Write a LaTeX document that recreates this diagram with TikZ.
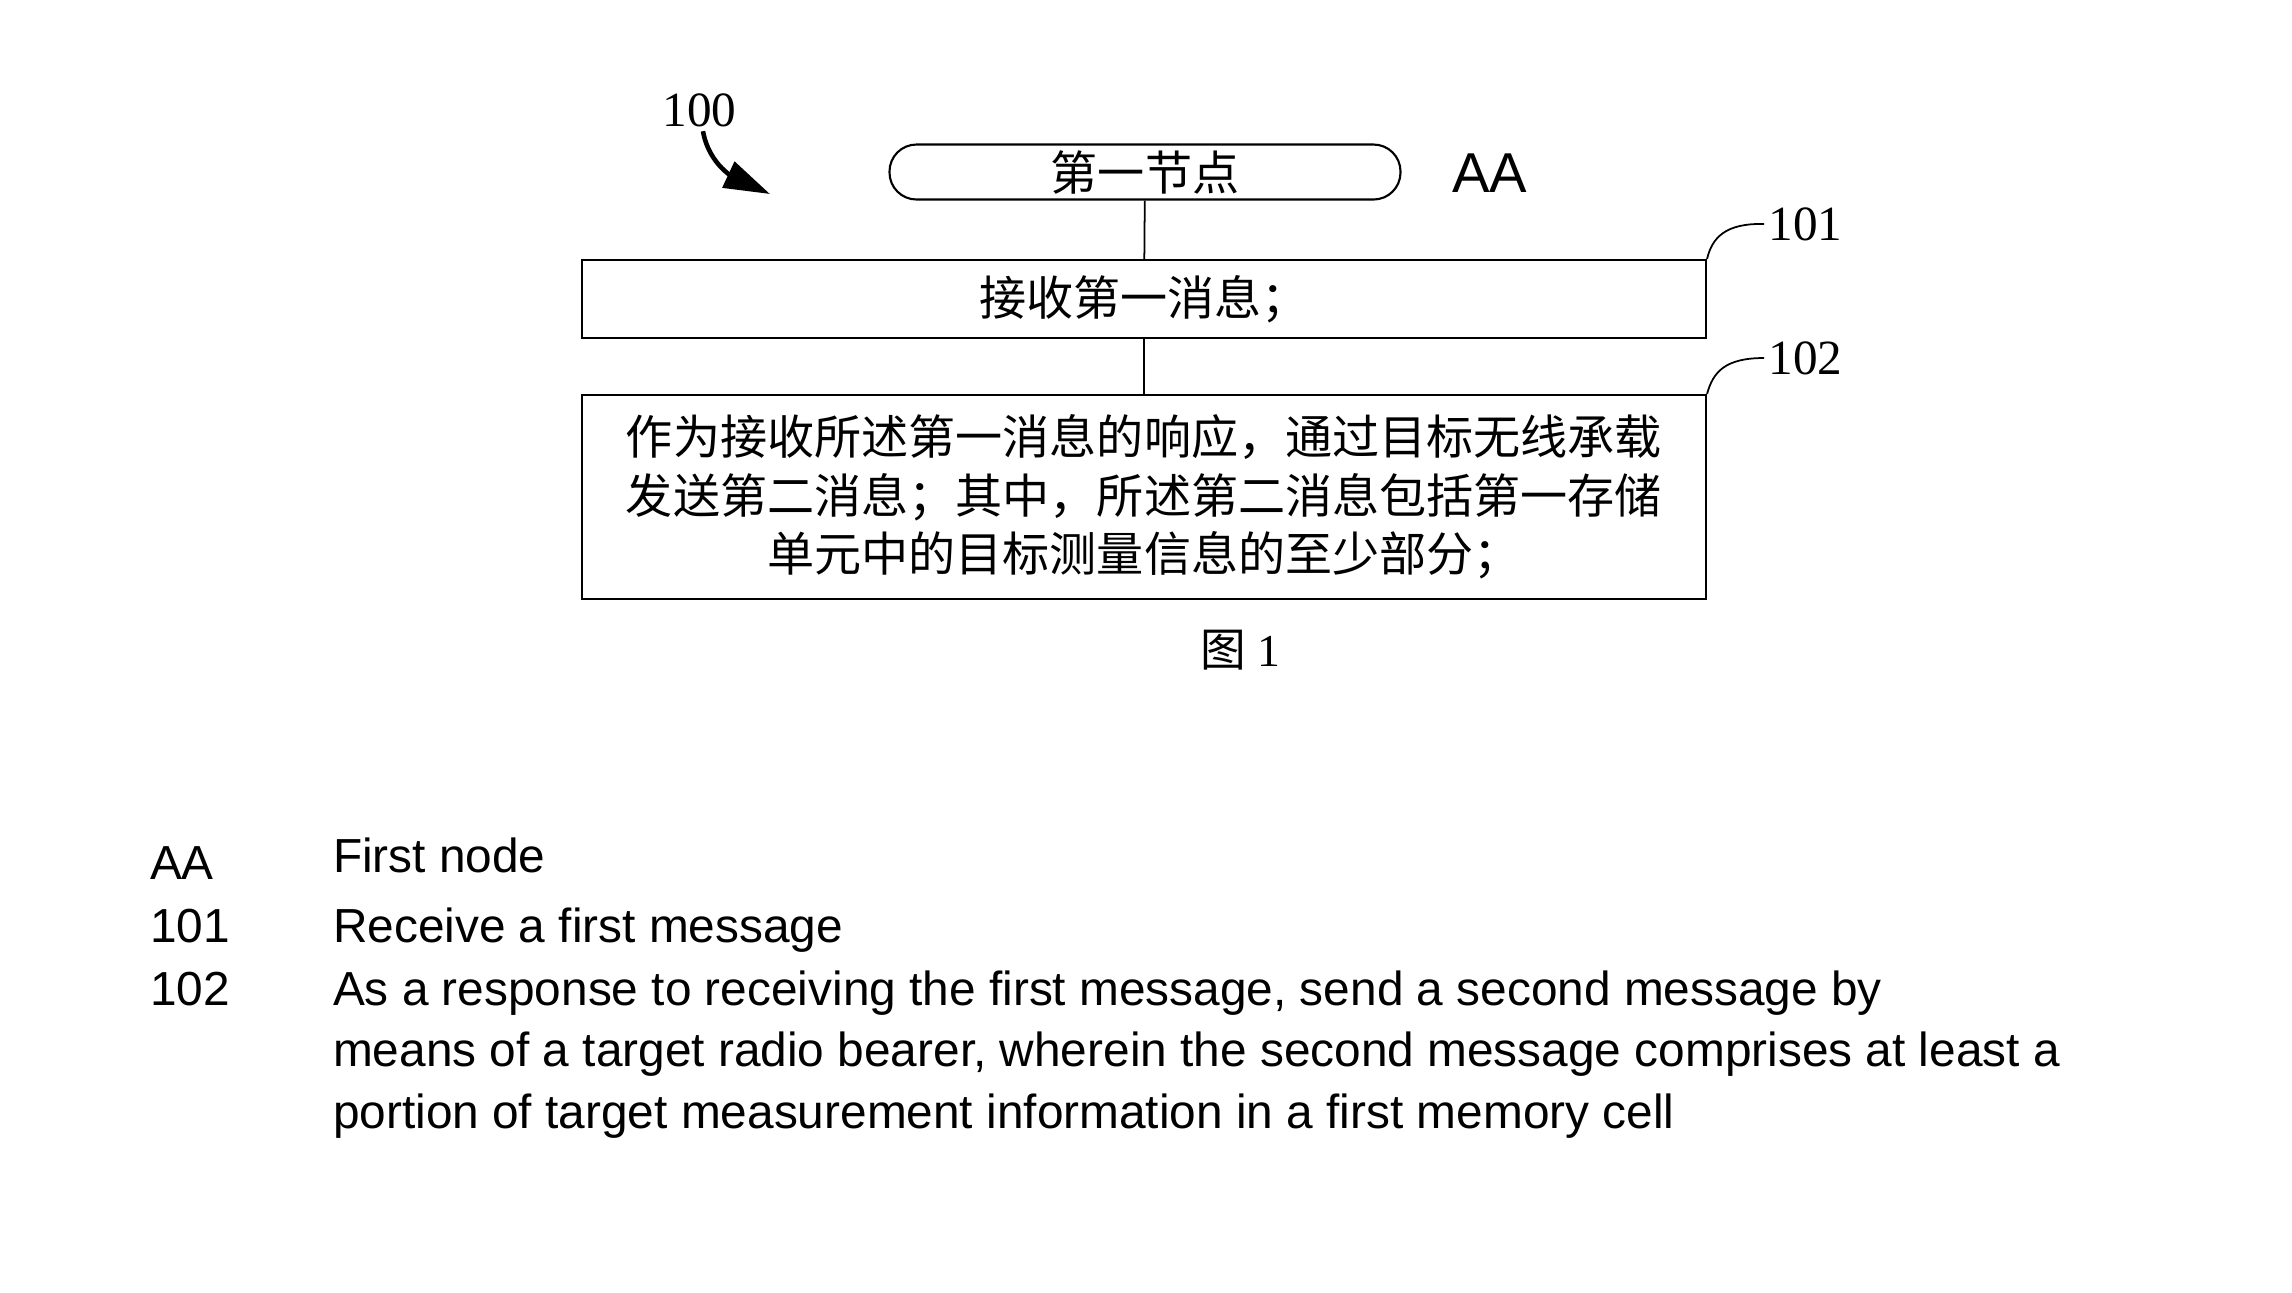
\documentclass[tikz,border=0pt]{standalone}
\usepackage{fontspec}
\setmainfont{Liberation Serif}
\setsansfont{Liberation Sans}
\newfontfamily\cjk{Noto Sans CJK SC}
\usetikzlibrary{arrows.meta,positioning}

\begin{document}
\begin{tikzpicture}[
    >=Latex,
    line width=0.6pt,
    stepbox/.style={
        draw,
        align=center,
        minimum width=11.24cm,
        inner sep=0pt,
        font=\cjk\fontsize{13.4}{16.6}\selectfont
    },
    terminal/.style={
        draw,
        rounded corners=2.7mm,
        minimum width=5.11cm,
        minimum height=0.55cm,
        inner sep=0pt,
        font=\cjk\fontsize{13.4}{16.6}\selectfont
    },
    refnum/.style={
        anchor=west,
        inner sep=1pt,
        font=\fontsize{14}{16}\selectfont
    },
    legend/.style={
        anchor=base west,
        inner sep=0pt,
        font=\sffamily\fontsize{13.6}{17.4}\selectfont
    },
    edge/.style={line width=0.5pt}
]
    \useasboundingbox (0,0) rectangle (22.92,-12.92);

    % flow chart
    \node[terminal] (first) at (11.45,-1.72) {第一节点};
    \node[anchor=base west, inner sep=0pt, font=\sffamily\fontsize{16}{18}\selectfont]
        (aa) at (14.51,-1.92) {AA};
    \node[stepbox, minimum height=0.78cm] (recv) at (11.44,-2.99) {接收第一消息；};
    \node[stepbox, minimum height=2.04cm] (send) at (11.44,-4.97)
        {作为接收所述第一消息的响应，通过目标无线承载\\
         发送第二消息；其中，所述第二消息包括第一存储\\
         单元中的目标测量信息的至少部分；};

    \draw[edge] (first) -- (recv);
    \draw[edge] (recv) -- (send);

    % reference numerals
    \node[refnum] (n100) at (6.58,-1.10) {100};
    \node[refnum] (n101) at (17.64,-2.24) {101};
    \node[refnum] (n102) at (17.64,-3.58) {102};
    \coordinate (tip100) at (7.70,-1.94);

    \draw[line width=1.3pt, -{Triangle[length=4.6mm,width=2.8mm]}]
        ([xshift=1pt]n100.south) to[out=-80,in=155] (tip100);
    \draw[edge] (recv.north east) .. controls (17.12,-2.38) and (17.25,-2.23) .. (n101.west);
    \draw[edge] (send.north east) .. controls (17.13,-3.72) and (17.25,-3.58) .. (n102.west);

    \node[font=\fontsize{13}{15}\selectfont] (fig) at (12.40,-6.50) {{\cjk 图} 1};

    % legend
    \node[legend] (keyaa) at (1.49,-8.79) {AA};
    \node[legend] (txtaa) at (3.32,-8.72) {First node};
    \node[legend] (key101) at (1.49,-9.42) {101};
    \node[legend] (txt101) at (3.32,-9.42) {Receive a first message};
    \node[legend] (key102) at (1.49,-10.05) {102};
    % base of a multi-line node is its last line
    \node[legend, align=left] (txt102) at (3.32,-11.28)
        {As a response to receiving the first message, send a second message by\\
         means of a target radio bearer, wherein the second message comprises at least a\\
         portion of target measurement information in a first memory cell};
\end{tikzpicture}
\end{document}
